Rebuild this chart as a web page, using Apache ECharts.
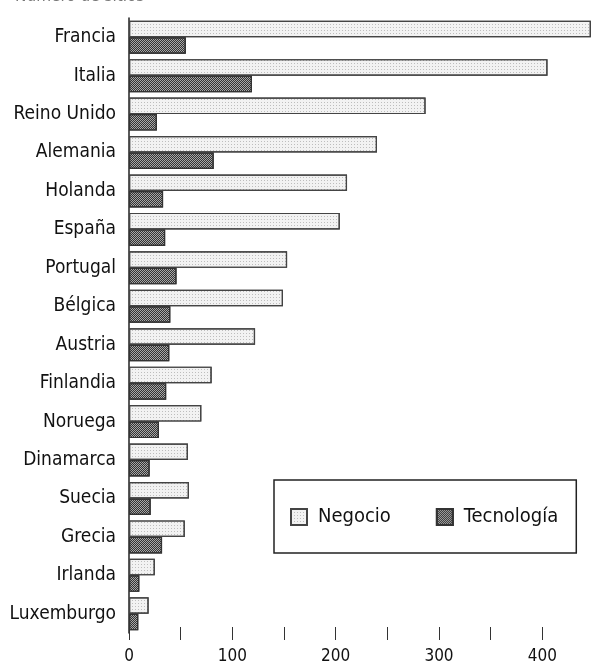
<!DOCTYPE html>
<html>
<head>
<meta charset="utf-8">
<script src="https://cdn.jsdelivr.net/npm/echarts@6/dist/echarts.min.js"></script>
<style>
  html, body { margin: 0; padding: 0; background: #fff; }
  #main { width: 596px; height: 666px; }
</style>
</head>
<body>
<div id="main"></div>
<script type="text/javascript">

// número de sitios por país
var paises = ['Francia', 'Italia', 'Reino Unido', 'Alemania', 'Holanda', 'España', 'Portugal', 'Bélgica',
	'Austria', 'Finlandia', 'Noruega', 'Dinamarca', 'Suecia', 'Grecia', 'Irlanda', 'Luxemburgo'];
var negocio = [447, 405, 287, 240, 211, 204, 153, 149, 122, 80, 70, 57, 58, 54, 25, 19];
var tecnologia = [55, 119, 27, 82, 33, 35, 46, 40, 39, 36, 29, 20, 21, 32, 10, 9];
var ticksX = [0, 50, 100, 150, 200, 250, 300, 350, 400];
var labelsX = [0, 100, 200, 300, 400];

var font = "'Liberation Sans Narrow', 'DejaVu Sans Condensed', sans-serif";

var myChart = echarts.init(document.getElementById('main'));

var option = {
	animation: false,
	title: {
		text: 'Número de sitios',
		left: 10,
		top: -17,
		textStyle: { fontFamily: font, fontSize: 17, fontWeight: 'normal', color: '#777' }
	},
	legend: {
		left: 274,
		top: 480,
		orient: 'horizontal',
		padding: [27, 18, 26, 16],
		itemGap: 45,
		itemWidth: 16,
		itemHeight: 16,
		icon: 'rect',
		borderColor: '#222',
		borderWidth: 1.5,
		textStyle: { fontFamily: font, fontSize: 20, color: '#111', padding: [0, 0, 0, 6] },
		data: ['Negocio', 'Tecnología']
	},
	grid: {
		left: 129,
		right: 2,
		top: 18,
		bottom: 33
	},
	xAxis: {
		type: 'value',
		min: 0,
		max: 450,
		offset: -6,
		axisLine: { show: false },
		splitLine: { show: false },
		axisTick: {
			show: true,
			length: 13,
			customValues: ticksX,
			lineStyle: { color: '#333', width: 1 }
		},
		axisLabel: {
			customValues: labelsX,
			margin: 21,
			fontFamily: font,
			fontSize: 17,
			color: '#111'
		}
	},
	yAxis: {
		type: 'category',
		inverse: true,
		data: paises,
		axisLine: { show: true, lineStyle: { color: '#222', width: 1.5 } },
		axisTick: { show: false },
		axisLabel: {
			margin: 13,
			fontFamily: font,
			fontSize: 19,
			color: '#111'
		}
	},
	series: [
		{
			name: 'Negocio',
			type: 'bar',
			barGap: '0%',
			barCategoryGap: '14%',
			data: negocio,
			itemStyle: {
				color: '#f2f2f2',
				borderColor: '#444',
				borderWidth: 1.2,
				decal: {
					symbol: 'rect',
					symbolSize: 1,
					color: 'rgba(0,0,0,0.22)',
					dashArrayX: [1, 2],
					dashArrayY: [1, 2]
				}
			}
		},
		{
			name: 'Tecnología',
			type: 'bar',
			data: tecnologia,
			itemStyle: {
				color: '#a8a8a8',
				borderColor: '#333',
				borderWidth: 1.2,
				decal: {
					symbol: 'rect',
					symbolSize: 1,
					color: '#333',
					dashArrayX: [[1, 1], [0, 1, 1, 0]],
					dashArrayY: [1, 0]
				}
			}
		}
	]
};

myChart.setOption(option);

</script>
</body>
</html>
